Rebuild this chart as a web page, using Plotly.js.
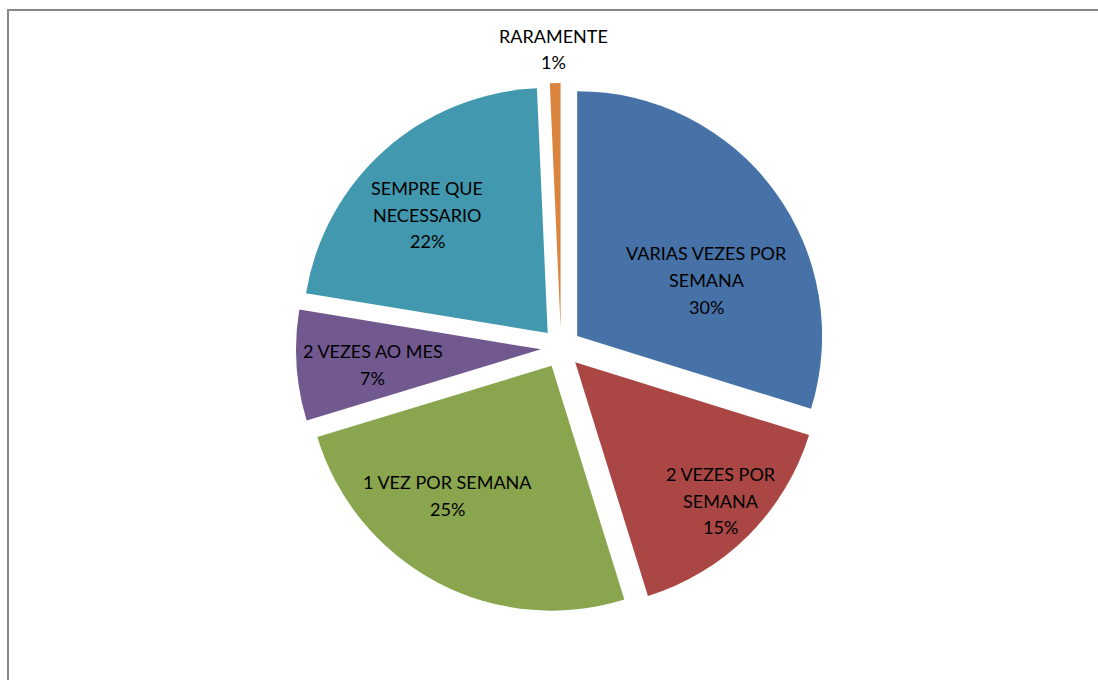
<!DOCTYPE html>
<html>
<head>
<meta charset="utf-8">
<script src="https://cdn.plot.ly/plotly-3.0.1.min.js"></script>
<style>
html,body{margin:0;padding:0;background:#fff;}
#chart{width:1098px;height:680px;}
</style>
</head>
<body>
<div id="chart"></div>
<script>
// Data
const categories = ['VARIAS VEZES POR SEMANA', '2 VEZES POR SEMANA', '1 VEZ POR SEMANA', '2 VEZES AO MES', 'SEMPRE QUE NECESSARIO', 'RARAMENTE'];
const labelLines = [['VARIAS VEZES POR', 'SEMANA'], ['2 VEZES POR', 'SEMANA'], ['1 VEZ POR SEMANA'], ['2 VEZES AO MES'], ['SEMPRE QUE', 'NECESSARIO'], ['RARAMENTE']];
const values = [29.8, 15.4, 25.1, 7.3, 21.7, 0.7];

// Style
const colors = ['#4672A8', '#AA4744', '#89A54E', '#71588F', '#4298AF', '#DB843D'];
const labelRadius = [0.577, 0.82, 0.68, 0.689, 0.689, 1.139];   // distance of label from slice apex, in radii
const labelAngleShift = [13.0, -1.4, 11.0, -1.3, -3.9, -0.1];    // degrees from slice bisector
const FONT = 'Lato, "Open Sans", sans-serif';
const FONT_SIZE = 18;
const LINE_H = 26.7;
const PULL = 0.082;

const W = 1098, H = 680;
const domain = { x: [296 / W, 826 / W], y: [67 / H, 597 / H] };

const trace = {
  type: 'pie',
  labels: categories,
  values: values,
  textinfo: 'none',
  sort: false,
  direction: 'clockwise',
  rotation: 0,
  pull: PULL,
  marker: { colors: colors, line: { width: 0 } },
  hoverinfo: 'label+percent',
  domain: domain,
  showlegend: false
};

// label placement from slice geometry (same geometry Plotly uses)
const total = values.reduce((a, b) => a + b, 0);
const domW = (domain.x[1] - domain.x[0]) * W, domH = (domain.y[1] - domain.y[0]) * H;
const cx = (domain.x[0] + domain.x[1]) / 2 * W;
const cy = (1 - (domain.y[0] + domain.y[1]) / 2) * H;
const R = Math.min(domW, domH) / 2 / (1 + PULL);
const annotations = [];
let cum = 0;
values.forEach((v, i) => {
  const mid = (cum + v / 2) / total * 360;
  cum += v;
  const m = mid * Math.PI / 180;
  const ax = cx + PULL * R * Math.sin(m), ay = cy - PULL * R * Math.cos(m);
  const a = (mid + labelAngleShift[i]) * Math.PI / 180;
  const px = ax + labelRadius[i] * R * Math.sin(a);
  const py = ay - labelRadius[i] * R * Math.cos(a);
  const lines = labelLines[i].concat([Math.round(v / total * 100) + '%']);
  const n = lines.length;
  lines.forEach((t, j) => {
    annotations.push({
      xref: 'paper', yref: 'paper', x: px / W, y: 1 - py / H,
      xanchor: 'center', yanchor: 'middle', showarrow: false,
      yshift: ((n - 1) / 2 - j) * LINE_H,
      text: t,
      font: { family: FONT, size: FONT_SIZE, color: '#000000' }
    });
  });
});

const layout = {
  width: W,
  height: H,
  margin: { l: 0, r: 0, t: 0, b: 0 },
  paper_bgcolor: '#ffffff',
  plot_bgcolor: '#ffffff',
  showlegend: false,
  annotations: annotations,
  shapes: [{
    type: 'rect', xref: 'paper', yref: 'paper',
    x0: 8 / W, x1: 1.02, y0: -0.02, y1: 1 - 10 / H,
    line: { color: '#878787', width: 2 }
  }]
};

Plotly.newPlot('chart', [trace], layout, { displayModeBar: false, staticPlot: true });
</script>
</body>
</html>
